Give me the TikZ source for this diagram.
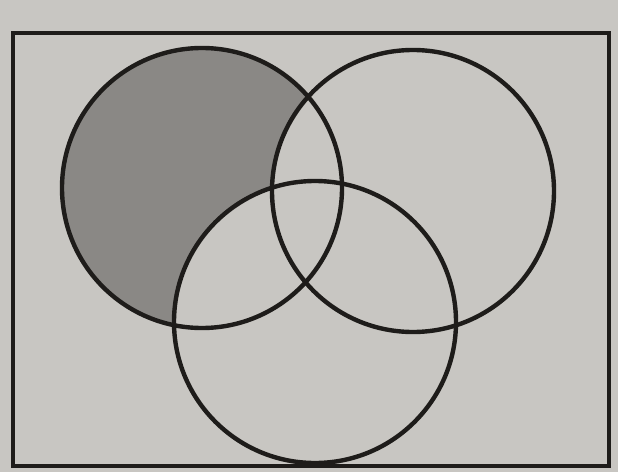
\documentclass[tikz,border=0pt]{standalone}
\definecolor{paper}{RGB}{200,198,194}
\definecolor{grayfill}{RGB}{138,136,133}
\definecolor{ink}{RGB}{30,28,26}
\begin{document}
\begin{tikzpicture}[x=1pt,y=1pt,
  outline/.style={draw=ink,line width=4.4pt}]
\useasboundingbox (0,0) rectangle (618,472);
\fill[paper] (0,0) rectangle (618,472);
% shaded region: A only
\fill[grayfill] (202,284) circle[radius=140pt];
\fill[paper] (413,281) circle[radius=141pt];
\fill[paper] (315,150) circle[radius=141pt];
% universe rectangle
\draw[outline] (13,6) rectangle (609,439);
% circles
\draw[outline] (202,284) circle[radius=140pt];
\draw[outline] (413,281) circle[radius=141pt];
\draw[outline] (315,150) circle[radius=141pt];
\end{tikzpicture}
\end{document}
